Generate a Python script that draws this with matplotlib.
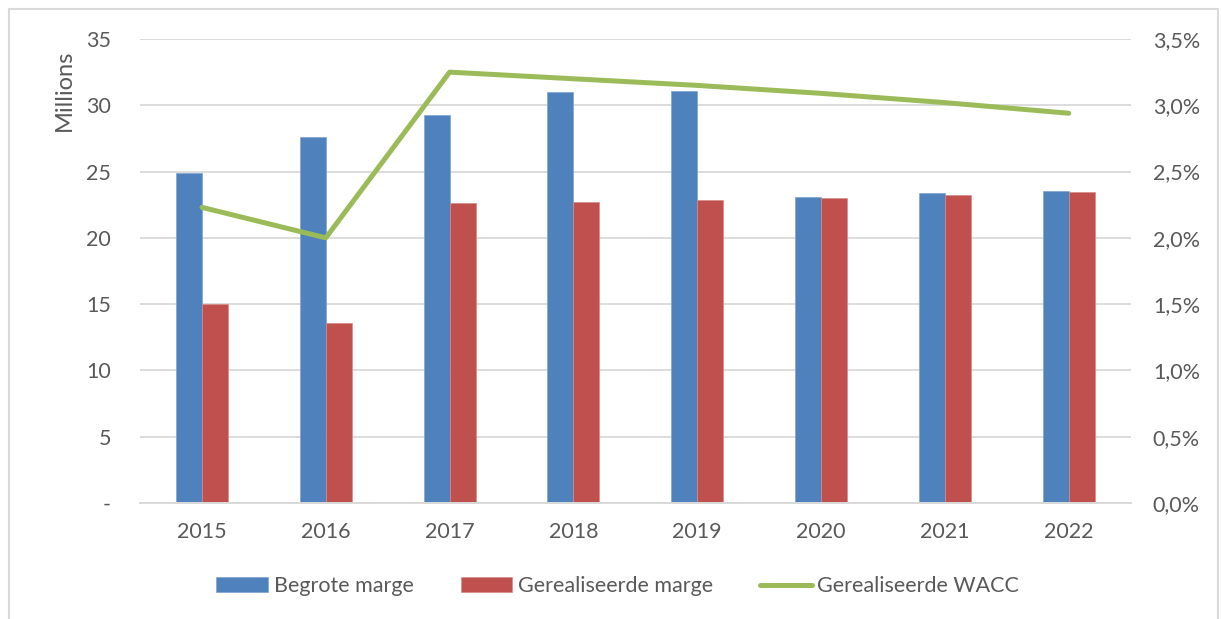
import numpy as np
from matplotlib import pyplot as plt
from matplotlib.patches import Rectangle
from matplotlib.ticker import FuncFormatter

years = ['2015', '2016', '2017', '2018', '2019', '2020', '2021', '2022']
begrote_marge = [24.9, 27.6, 29.3, 31.0, 31.1, 23.1, 23.35, 23.5]  # miljoenen
gerealiseerde_marge = [15.0, 13.6, 22.6, 22.7, 22.85, 23.0, 23.25, 23.45]
wacc = [2.23, 2.0, 3.25, 3.2, 3.15, 3.09, 3.02, 2.94]  # procent

BLUE = '#4F81BD'
RED = '#C0504D'
GREEN = '#9BBB59'
GRID = '#D9D9D9'
TEXT = '#595959'

plt.rcParams['font.family'] = ['Lato', 'DejaVu Sans']

fig = plt.figure(figsize=(12.21, 6.19), dpi=100)
ax = fig.add_axes([0.1147, 0.1874, 0.8113, 0.7496])
ax2 = ax.twinx()

x = np.arange(len(years))
w = 0.21
ax.bar(x - w / 2, begrote_marge, w, color=BLUE, edgecolor='#7FA3D1', linewidth=0.5,
       label='Begrote marge', zorder=2)
ax.bar(x + w / 2, gerealiseerde_marge, w, color=RED, edgecolor='#D98A88', linewidth=0.5,
       label='Gerealiseerde marge', zorder=2)
ax2.plot(x, wacc, color=GREEN, linewidth=3.6, solid_capstyle='round',
         label='Gerealiseerde WACC')

ax.set_xlim(-0.5, len(years) - 0.5)
ax.set_ylim(0, 35)
ax.set_yticks(range(0, 36, 5))
ax.yaxis.set_major_formatter(FuncFormatter(lambda v, p: '-' if v == 0 else f'{v:.0f}'))
ax2.set_ylim(0, 3.5)
ax2.set_yticks(np.arange(0, 3.51, 0.5))
ax2.yaxis.set_major_formatter(FuncFormatter(lambda v, p: f'{v:.1f}%'.replace('.', ',')))

ax.set_xticks(x)
ax.set_xticklabels(years)
ax.grid(axis='y', color=GRID, linewidth=1.3, zorder=0)
ax.set_axisbelow(True)

for a in (ax, ax2):
    for side in ('top', 'left', 'right'):
        a.spines[side].set_visible(False)
    a.spines['bottom'].set_color(GRID)
    a.spines['bottom'].set_linewidth(1.3)
    a.tick_params(length=0, labelsize=15.5, labelcolor=TEXT)
ax.tick_params(axis='x', pad=14)
ax.tick_params(axis='y', pad=21)
ax2.tick_params(axis='y', pad=16)

ax.set_ylabel('Millions', fontsize=17, color=TEXT)
ax.yaxis.set_label_coords(-0.066, 0.89)

handles = [h for a in (ax, ax2) for h in a.get_legend_handles_labels()[0]]
labels = [l for a in (ax, ax2) for l in a.get_legend_handles_labels()[1]]
fig.legend(handles, labels, loc='center', bbox_to_anchor=(0.506, 0.053), ncol=3,
           frameon=False, fontsize=15.5, labelcolor=TEXT, handlelength=2.4,
           handleheight=0.65, handletextpad=0.25, columnspacing=2.2)

fig.patches.append(Rectangle((9 / 1221, -0.1), 1209 / 1221, 1.1 - 9.5 / 619,
                             transform=fig.transFigure, fill=False,
                             edgecolor=GRID, linewidth=1.5))

fig.savefig('out.png', dpi=100)
